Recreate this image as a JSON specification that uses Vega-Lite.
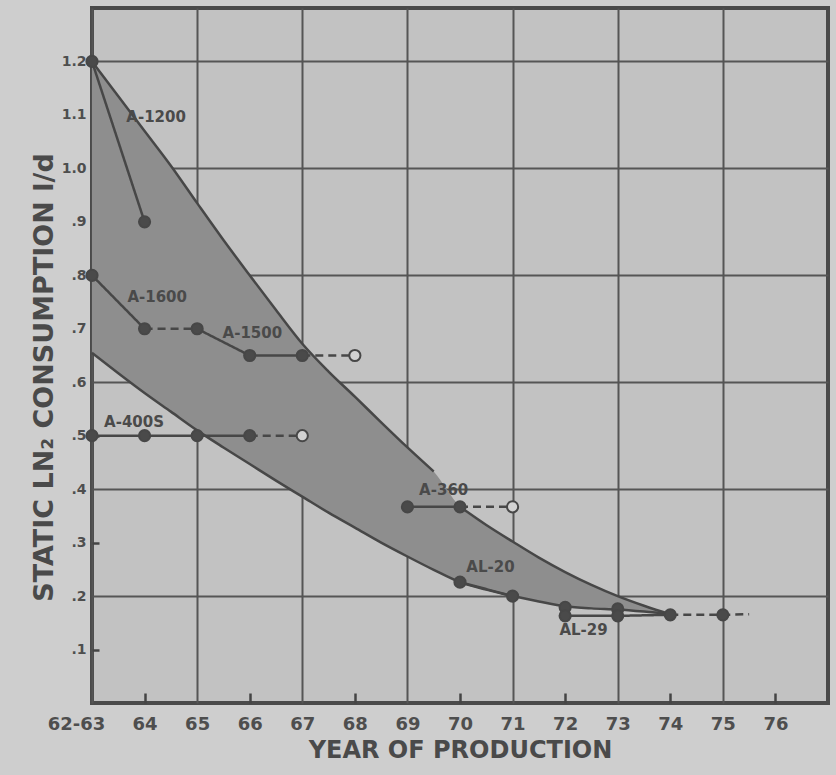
{
  "$schema": "https://vega.github.io/schema/vega-lite/v6.json",
  "width": 736,
  "height": 695,
  "autosize": {"type": "none"},
  "padding": {"left": 92, "top": 8, "right": 8, "bottom": 72},
  "background": "#cecece",
  "config": {
    "view": {"fill": "#c2c2c2", "stroke": "#4a4a4a", "strokeWidth": 4},
    "font": "DejaVu Sans",
    "axis": {
      "labelFont": "DejaVu Sans",
      "labelFontWeight": "bold",
      "labelColor": "#4e4e4e",
      "titleFont": "DejaVu Sans",
      "titleFontWeight": "bold",
      "titleColor": "#4a4a4a",
      "gridColor": "#555555",
      "gridWidth": 2,
      "ticks": true,
      "tickColor": "#444444",
      "tickWidth": 2.5,
      "domain": false
    }
  },
  "datasets": {
    "band": [
      {"year": 63.0, "hi": 1.2, "lo": 0.655},
      {"year": 63.5, "hi": 1.135, "lo": 0.617},
      {"year": 64.0, "hi": 1.07, "lo": 0.58},
      {"year": 64.5, "hi": 1.005, "lo": 0.545},
      {"year": 65.0, "hi": 0.935, "lo": 0.51},
      {"year": 65.5, "hi": 0.866, "lo": 0.478},
      {"year": 66.0, "hi": 0.8, "lo": 0.447},
      {"year": 66.5, "hi": 0.735, "lo": 0.416},
      {"year": 67.0, "hi": 0.672, "lo": 0.386},
      {"year": 67.5, "hi": 0.62, "lo": 0.356},
      {"year": 68.0, "hi": 0.573, "lo": 0.328},
      {"year": 68.5, "hi": 0.525, "lo": 0.3},
      {"year": 69.0, "hi": 0.478, "lo": 0.274},
      {"year": 69.5, "hi": 0.433, "lo": 0.249},
      {"year": 70.0, "hi": 0.367, "lo": 0.226},
      {"year": 70.5, "hi": 0.333, "lo": 0.212},
      {"year": 71.0, "hi": 0.302, "lo": 0.2},
      {"year": 71.5, "hi": 0.272, "lo": 0.19},
      {"year": 72.0, "hi": 0.245, "lo": 0.181},
      {"year": 72.5, "hi": 0.221, "lo": 0.177},
      {"year": 73.0, "hi": 0.2, "lo": 0.175},
      {"year": 73.5, "hi": 0.182, "lo": 0.171},
      {"year": 74.0, "hi": 0.166, "lo": 0.166}
    ],
    "edges": [
      {"edge": "upper-a", "year": 63.0, "value": 1.2},
      {"edge": "upper-a", "year": 63.5, "value": 1.135},
      {"edge": "upper-a", "year": 64.0, "value": 1.07},
      {"edge": "upper-a", "year": 64.5, "value": 1.005},
      {"edge": "upper-a", "year": 65.0, "value": 0.935},
      {"edge": "upper-a", "year": 65.5, "value": 0.866},
      {"edge": "upper-a", "year": 66.0, "value": 0.8},
      {"edge": "upper-a", "year": 66.5, "value": 0.735},
      {"edge": "upper-a", "year": 67.0, "value": 0.672},
      {"edge": "upper-a", "year": 67.5, "value": 0.62},
      {"edge": "upper-a", "year": 68.0, "value": 0.573},
      {"edge": "upper-a", "year": 68.5, "value": 0.525},
      {"edge": "upper-a", "year": 69.0, "value": 0.478},
      {"edge": "upper-a", "year": 69.5, "value": 0.433},
      {"edge": "upper-b", "year": 70.0, "value": 0.367},
      {"edge": "upper-b", "year": 70.5, "value": 0.333},
      {"edge": "upper-b", "year": 71.0, "value": 0.302},
      {"edge": "upper-b", "year": 71.5, "value": 0.272},
      {"edge": "upper-b", "year": 72.0, "value": 0.245},
      {"edge": "upper-b", "year": 72.5, "value": 0.221},
      {"edge": "upper-b", "year": 73.0, "value": 0.2},
      {"edge": "upper-b", "year": 73.5, "value": 0.182},
      {"edge": "upper-b", "year": 74.0, "value": 0.166},
      {"edge": "lower", "year": 63.0, "value": 0.655},
      {"edge": "lower", "year": 63.5, "value": 0.617},
      {"edge": "lower", "year": 64.0, "value": 0.58},
      {"edge": "lower", "year": 64.5, "value": 0.545},
      {"edge": "lower", "year": 65.0, "value": 0.51},
      {"edge": "lower", "year": 65.5, "value": 0.478},
      {"edge": "lower", "year": 66.0, "value": 0.447},
      {"edge": "lower", "year": 66.5, "value": 0.416},
      {"edge": "lower", "year": 67.0, "value": 0.386},
      {"edge": "lower", "year": 67.5, "value": 0.356},
      {"edge": "lower", "year": 68.0, "value": 0.328},
      {"edge": "lower", "year": 68.5, "value": 0.3},
      {"edge": "lower", "year": 69.0, "value": 0.274},
      {"edge": "lower", "year": 69.5, "value": 0.249},
      {"edge": "lower", "year": 70.0, "value": 0.226},
      {"edge": "lower", "year": 70.5, "value": 0.212},
      {"edge": "lower", "year": 71.0, "value": 0.2},
      {"edge": "lower", "year": 71.5, "value": 0.19},
      {"edge": "lower", "year": 72.0, "value": 0.181},
      {"edge": "lower", "year": 72.5, "value": 0.177},
      {"edge": "lower", "year": 73.0, "value": 0.175},
      {"edge": "lower", "year": 73.5, "value": 0.171},
      {"edge": "lower", "year": 74.0, "value": 0.166}
    ],
    "models": [
      {"seg": "A-1200 a", "style": "solid", "year": 63, "value": 1.2},
      {"seg": "A-1200 a", "style": "solid", "year": 64, "value": 0.9},
      {"seg": "A-1600 a", "style": "solid", "year": 63, "value": 0.8},
      {"seg": "A-1600 a", "style": "solid", "year": 64, "value": 0.7},
      {"seg": "A-1600 b", "style": "dashed", "year": 64, "value": 0.7},
      {"seg": "A-1600 b", "style": "dashed", "year": 65, "value": 0.7},
      {"seg": "A-1500 a", "style": "solid", "year": 65, "value": 0.7},
      {"seg": "A-1500 a", "style": "solid", "year": 66, "value": 0.65},
      {"seg": "A-1500 a", "style": "solid", "year": 67, "value": 0.65},
      {"seg": "A-1500 b", "style": "dashed", "year": 67, "value": 0.65},
      {"seg": "A-1500 b", "style": "dashed", "year": 68, "value": 0.65},
      {"seg": "A-400S a", "style": "solid", "year": 63, "value": 0.5},
      {"seg": "A-400S a", "style": "solid", "year": 64, "value": 0.5},
      {"seg": "A-400S a", "style": "solid", "year": 65, "value": 0.5},
      {"seg": "A-400S a", "style": "solid", "year": 66, "value": 0.5},
      {"seg": "A-400S b", "style": "dashed", "year": 66, "value": 0.5},
      {"seg": "A-400S b", "style": "dashed", "year": 67, "value": 0.5},
      {"seg": "A-360 a", "style": "solid", "year": 69, "value": 0.367},
      {"seg": "A-360 a", "style": "solid", "year": 70, "value": 0.367},
      {"seg": "A-360 b", "style": "dashed", "year": 70, "value": 0.367},
      {"seg": "A-360 b", "style": "dashed", "year": 71, "value": 0.367},
      {"seg": "AL-20 a", "style": "solid", "year": 70, "value": 0.226},
      {"seg": "AL-20 a", "style": "solid", "year": 71, "value": 0.2},
      {"seg": "AL-29 a", "style": "solid", "year": 72, "value": 0.163},
      {"seg": "AL-29 a", "style": "solid", "year": 73, "value": 0.163},
      {"seg": "AL-29 a", "style": "solid", "year": 74, "value": 0.165},
      {"seg": "AL-29 b", "style": "dashed", "year": 74, "value": 0.165},
      {"seg": "AL-29 b", "style": "dashed", "year": 75, "value": 0.165},
      {"seg": "AL-29 b", "style": "dashed", "year": 75.5, "value": 0.166}
    ],
    "points": [
      {"kind": "filled", "year": 63, "value": 1.2},
      {"kind": "filled", "year": 64, "value": 0.9},
      {"kind": "filled", "year": 63, "value": 0.8},
      {"kind": "filled", "year": 64, "value": 0.7},
      {"kind": "filled", "year": 65, "value": 0.7},
      {"kind": "filled", "year": 66, "value": 0.65},
      {"kind": "filled", "year": 67, "value": 0.65},
      {"kind": "open", "year": 68, "value": 0.65},
      {"kind": "filled", "year": 63, "value": 0.5},
      {"kind": "filled", "year": 64, "value": 0.5},
      {"kind": "filled", "year": 65, "value": 0.5},
      {"kind": "filled", "year": 66, "value": 0.5},
      {"kind": "open", "year": 67, "value": 0.5},
      {"kind": "filled", "year": 69, "value": 0.367},
      {"kind": "filled", "year": 70, "value": 0.367},
      {"kind": "open", "year": 71, "value": 0.367},
      {"kind": "filled", "year": 70, "value": 0.226},
      {"kind": "filled", "year": 71, "value": 0.2},
      {"kind": "filled", "year": 72, "value": 0.179},
      {"kind": "filled", "year": 72, "value": 0.163},
      {"kind": "filled", "year": 73, "value": 0.176},
      {"kind": "filled", "year": 73, "value": 0.163},
      {"kind": "filled", "year": 74, "value": 0.165},
      {"kind": "filled", "year": 75, "value": 0.165}
    ],
    "labels": [
      {"label": "A-1200", "year": 64.22, "value": 1.096},
      {"label": "A-1600", "year": 64.24, "value": 0.759},
      {"label": "A-1500", "year": 66.05, "value": 0.692},
      {"label": "A-400S", "year": 63.8, "value": 0.526},
      {"label": "A-360", "year": 69.69, "value": 0.398},
      {"label": "AL-20", "year": 70.58, "value": 0.254},
      {"label": "AL-29", "year": 72.35, "value": 0.137}
    ]
  },
  "encoding": {
    "x": {
      "field": "year",
      "type": "quantitative",
      "scale": {"domain": [63, 77], "nice": false, "zero": false},
      "axis": {
        "title": "YEAR OF PRODUCTION",
        "titleFontSize": 24,
        "titleY": 47,
        "titleBaseline": "middle",
        "values": [63, 64, 65, 66, 67, 68, 69, 70, 71, 72, 73, 74, 75, 76],
        "labelExpr": "datum.value == 63 ? '62-63' : format(datum.value, 'd')",
        "labelFontSize": 18,
        "labelBaseline": "top",
        "labelFlush": false,
        "labelOverlap": false,
        "labelPadding": 22,
        "labelOffset": {"condition": {"test": "datum.value == 63", "value": -16}, "value": 0},
        "tickSize": -10,
        "tickOpacity": {"condition": {"test": "datum.value % 2 == 0", "value": 1}, "value": 0},
        "grid": true,
        "gridOpacity": {"condition": {"test": "datum.value % 2 == 1", "value": 1}, "value": 0}
      }
    },
    "y": {
      "type": "quantitative",
      "scale": {"domain": [0, 1.3], "nice": false, "zero": false},
      "axis": {
        "title": "STATIC LN₂ CONSUMPTION l/d",
        "titleFontSize": 27,
        "titleX": -48,
        "titleY": 369,
        "titleBaseline": "middle",
        "titleAlign": "center",
        "titleAngle": -90,
        "values": [0.1, 0.2, 0.3, 0.4, 0.5, 0.6, 0.7, 0.8, 0.9, 1.0, 1.1, 1.2],
        "labelExpr": "datum.value >= 1 ? format(datum.value, '.1f') : replace(format(datum.value, '.1f'), '0.', '.')",
        "labelFontSize": 14,
        "labelOverlap": false,
        "labelFlush": false,
        "labelPadding": 13,
        "tickSize": -7,
        "tickOpacity": {"condition": {"test": "round(datum.value * 10) % 2 == 1", "value": 1}, "value": 0},
        "grid": true,
        "gridOpacity": {"condition": {"test": "round(datum.value * 10) % 2 == 0", "value": 1}, "value": 0}
      }
    }
  },
  "layer": [
    {
      "data": {"name": "band"},
      "mark": {"type": "area", "color": "#8e8e8e", "opacity": 1, "interpolate": "monotone"},
      "encoding": {
        "y": {"field": "hi", "type": "quantitative"},
        "y2": {"field": "lo"}
      }
    },
    {
      "data": {"name": "edges"},
      "mark": {"type": "line", "color": "#474747", "strokeWidth": 2.5, "interpolate": "monotone"},
      "encoding": {
        "y": {"field": "value", "type": "quantitative"},
        "detail": {"field": "edge"}
      }
    },
    {
      "data": {"name": "models"},
      "mark": {"type": "line", "color": "#474747", "strokeWidth": 2.5},
      "encoding": {
        "y": {"field": "value", "type": "quantitative"},
        "detail": {"field": "seg"},
        "strokeDash": {
          "field": "style",
          "type": "nominal",
          "scale": {"domain": ["solid", "dashed"], "range": [[1, 0], [8, 5]]},
          "legend": null
        }
      }
    },
    {
      "data": {"name": "points"},
      "mark": {"type": "circle", "size": 125, "stroke": "#474747", "strokeWidth": 2, "opacity": 1},
      "encoding": {
        "y": {"field": "value", "type": "quantitative"},
        "fill": {
          "field": "kind",
          "type": "nominal",
          "scale": {"domain": ["filled", "open"], "range": ["#4a4a4a", "#d2d2d2"]},
          "legend": null
        }
      }
    },
    {
      "data": {"name": "labels"},
      "mark": {"type": "text", "font": "DejaVu Sans", "fontWeight": "bold", "fontSize": 15, "color": "#4a4a4a", "align": "center", "baseline": "middle"},
      "encoding": {
        "y": {"field": "value", "type": "quantitative"},
        "text": {"field": "label"}
      }
    }
  ]
}
